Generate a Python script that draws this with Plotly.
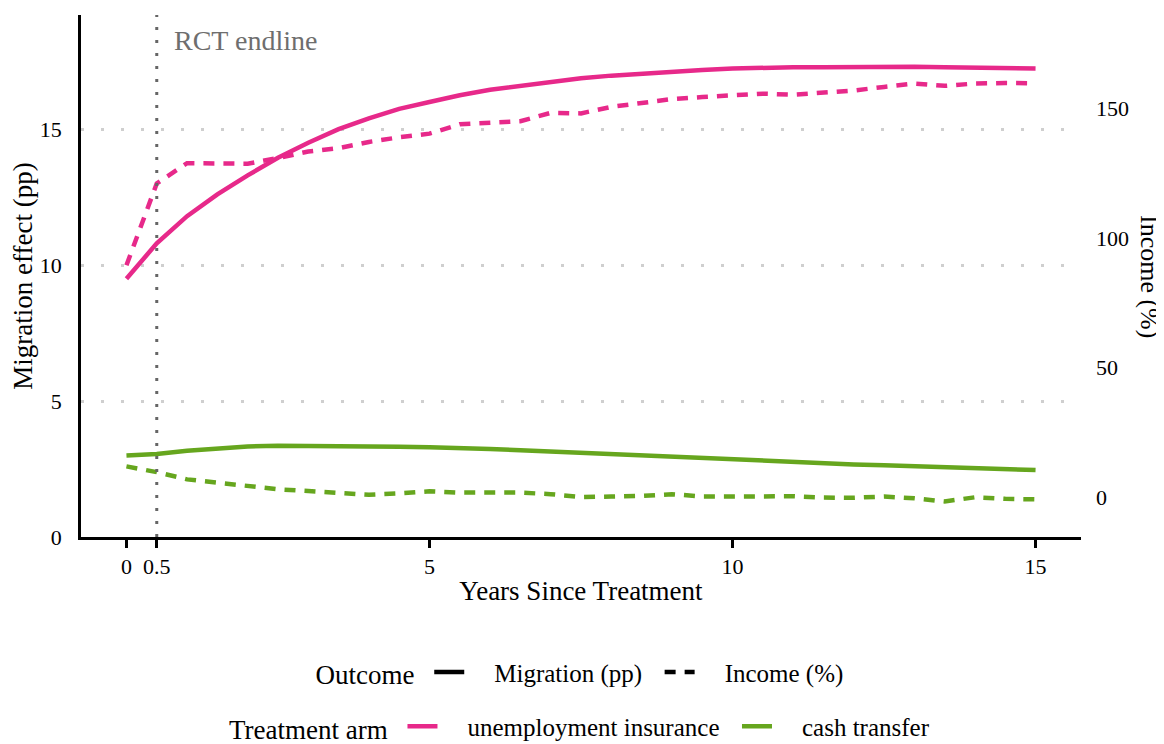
import plotly.graph_objects as go

# ---- data ----
years = [0, 0.5, 1, 1.5, 2, 2.5, 3, 3.5, 4, 4.5, 5, 5.5, 6, 6.5, 7, 7.5,
         8, 8.5, 9, 9.5, 10, 10.5, 11, 11.5, 12, 12.5, 13, 13.5, 14, 14.5, 15]

ui_migration = [9.5, 10.8, 11.8, 12.6, 13.3, 13.95, 14.5, 15.0, 15.4, 15.75, 16.0,
                16.25, 16.45, 16.6, 16.75, 16.87, 16.97, 17.05, 17.12, 17.18, 17.23,
                17.27, 17.28, 17.28, 17.30, 17.31, 17.30, 17.28, 17.26, 17.25, 17.23]
ui_income = [89.5, 121.0, 128.8, 128.8, 128.6, 130.8, 133.3, 134.6, 137.0, 138.8, 140.2,
             143.8, 144.6, 145.0, 148.2, 148.0, 150.5, 152.0, 153.5, 154.3, 155.0,
             155.6, 155.2, 156.0, 156.8, 158.2, 159.5, 158.6, 159.5, 159.7, 159.6]
ct_migration = [3.0, 3.05, 3.17, 3.25, 3.33, 3.36, 3.36, 3.35, 3.34, 3.32, 3.30,
                3.28, 3.24, 3.19, 3.14, 3.10, 3.06, 3.02, 2.98, 2.90, 2.86,
                2.80, 2.76, 2.71, 2.67, 2.64, 2.61, 2.56, 2.53, 2.50, 2.46]
ct_income = [12.0, 9.8, 7.0, 5.6, 4.4, 3.2, 2.5, 1.9, 1.1, 1.6, 2.4,
             1.9, 1.8, 1.9, 1.3, 0.2, 0.4, 0.6, 1.3, 0.4, 0.4,
             0.4, 0.5, 0.0, -0.1, 0.4, -0.3, -1.5, 0.1, -0.5, -0.7]

x_tickvals = [0, 0.5, 5, 10, 15]
x_ticktext = ["0", "0.5", "5", "10", "15"]
y_tickvals = [0, 5, 10, 15]
y2_tickvals = [0, 50, 100, 150]
endline_year = 0.5

arms = ["unemployment insurance", "cash transfer"]
outcomes = ["Migration (pp)", "Income (%)"]

# ---- styles ----
PINK = "#E7298A"
GREEN = "#66A61E"
FONT = "Liberation Serif"
DASH = "11px,9px"
LW = 4.5
PAD_L = "    "
PAD_R = "  "


def legend_label(text, trailing=""):
    return (PAD_L + "<span style='font-family:Liberation Serif, serif'>" + text
            + "</span>" + trailing)


fig = go.Figure()

fig.add_trace(go.Scatter(x=years, y=ui_migration, mode="lines",
                         line=dict(color=PINK, width=LW), showlegend=False))
fig.add_trace(go.Scatter(x=years, y=ct_migration, mode="lines",
                         line=dict(color=GREEN, width=LW), showlegend=False))
fig.add_trace(go.Scatter(x=years, y=ui_income, mode="lines", yaxis="y2",
                         line=dict(color=PINK, width=LW, dash=DASH), showlegend=False))
fig.add_trace(go.Scatter(x=years, y=ct_income, mode="lines", yaxis="y2",
                         line=dict(color=GREEN, width=LW, dash=DASH), showlegend=False))

# legend entries
fig.add_trace(go.Scatter(x=[None], y=[None], mode="lines", name=legend_label(outcomes[0], PAD_R),
                         line=dict(color="black", width=LW), legend="legend"))
fig.add_trace(go.Scatter(x=[None], y=[None], mode="lines", name=legend_label(outcomes[1]),
                         line=dict(color="black", width=LW, dash=DASH), legend="legend"))
fig.add_trace(go.Scatter(x=[None], y=[None], mode="lines", name=legend_label(arms[0], PAD_R),
                         line=dict(color=PINK, width=LW), legend="legend2"))
fig.add_trace(go.Scatter(x=[None], y=[None], mode="lines", name=legend_label(arms[1]),
                         line=dict(color=GREEN, width=LW), legend="legend2"))

fig.add_shape(type="line", xref="x", yref="y domain", x0=endline_year, x1=endline_year,
              y0=0, y1=1, line=dict(color="#666666", width=3, dash="3px,10px"), layer="above")
fig.add_annotation(x=endline_year + 0.25, xref="x", y=0.952, yref="paper",
                   text="RCT endline", showarrow=False, xanchor="left", yanchor="middle",
                   font=dict(family=FONT, size=28, color="#6e6e6e"))
fig.add_annotation(x=(1150 - 81) / 1000, xref="paper", y=0.5, yref="paper", text="Income (%)",
                   showarrow=False, textangle=90, xanchor="center", yanchor="middle",
                   font=dict(family=FONT, size=26, color="black"))

# page body has an 8px margin, so the figure is drawn 8px smaller and offset
fig.update_layout(
    width=1156, height=736,
    margin=dict(l=73, r=83, t=7, b=207, autoexpand=False),
    plot_bgcolor="white", paper_bgcolor="white",
    font=dict(family=FONT, size=22, color="black"),
    xaxis=dict(range=[-0.75, 15.75], tickvals=x_tickvals, ticktext=x_ticktext, automargin=False,
               showgrid=False, zeroline=False, showline=True, linecolor="black", linewidth=2.5,
               ticks="outside", ticklen=8, tickwidth=3, tickcolor="black",
               tickfont=dict(family=FONT, size=22, color="black"),
               title=dict(text="Years Since Treatment",
                          font=dict(family=FONT, size=27, color="black"), standoff=3)),
    yaxis=dict(range=[0, 19.2], tickvals=y_tickvals, showgrid=True, gridcolor="#cfcfcf",
               gridwidth=3, griddash="3px,17px", zeroline=False, showline=True, automargin=False,
               linecolor="black", linewidth=2.5, ticks="", ticklabelstandoff=12,
               tickfont=dict(family=FONT, size=22, color="black"),
               title=dict(text="Migration effect (pp)",
                          font=dict(family=FONT, size=27, color="black"), standoff=10)),
    yaxis2=dict(range=[-15.2, 185.9], tickvals=y2_tickvals, overlaying="y", side="right",
                showgrid=False, zeroline=False, showline=False, ticks="", automargin=False,
                ticklabelstandoff=14, tickfont=dict(family=FONT, size=22, color="black")),
    legend=dict(orientation="h", x=0.5, xanchor="center", y=-0.259, yanchor="middle",
                title=dict(text="Outcome ", side="left",
                           font=dict(family=FONT, size=27, color="black")),
                font=dict(family=FONT, size=25, color="black"), bgcolor="rgba(0,0,0,0)"),
    legend2=dict(orientation="h", x=0.5, xanchor="center", y=-0.363, yanchor="middle",
                 title=dict(text="Treatment arm ", side="left",
                            font=dict(family=FONT, size=27, color="black")),
                 font=dict(family=FONT, size=25, color="black"), bgcolor="rgba(0,0,0,0)"),
)

fig.write_html("out.html")
